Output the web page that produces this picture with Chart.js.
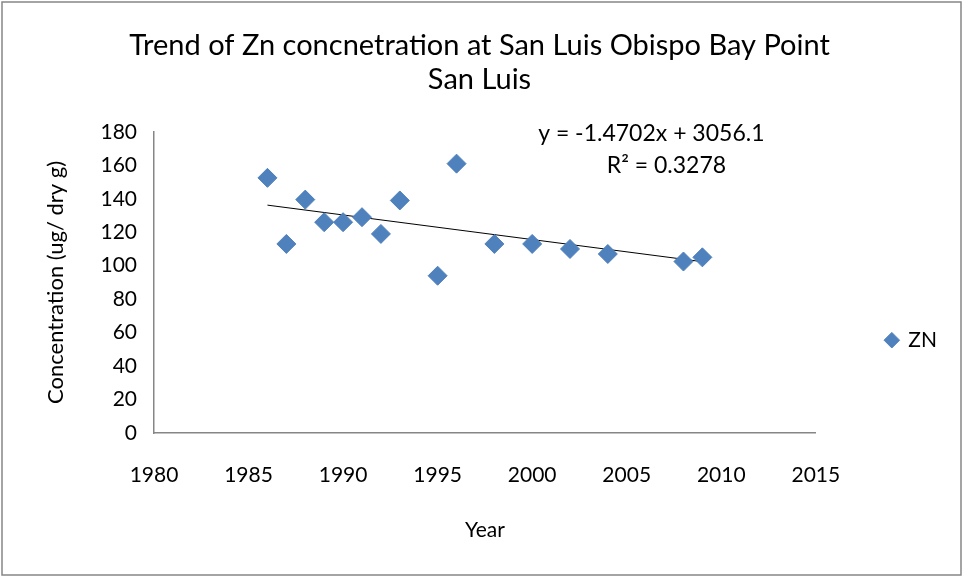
<!DOCTYPE html>
<html>
<head>
  <title>Trend of Zn concentration</title>
  <script src="https://cdn.jsdelivr.net/npm/chart.js"></script>
  <style>
    html, body { margin: 0; padding: 0; background: #fff; }
    #wrap { width: 963px; height: 577px; }
  </style>
</head>
<body>
<div id="wrap"><canvas id="graphCanvas" width="963" height="577"></canvas></div>

<script>
// sample years and measured Zn (ug / dry g)
let years = [1986, 1987, 1988, 1989, 1990, 1991, 1992, 1993, 1995, 1996, 1998, 2000, 2002, 2004, 2008, 2009];
let zn = [152.5, 113, 139.5, 126, 126, 129, 119, 139, 94, 161, 113, 113, 110, 107, 102.5, 105];

// linear trendline ends
let trendYears = [1986, 2009];
let trendValues = [136.2, 102.4];

let trendLabel = ['y = -1.4702x + 3056.1', 'R\u00B2 = 0.3278'];
let titleLines = ['Trend of Zn concnetration at San Luis Obispo Bay Point', 'San Luis'];

let fontName = 'Lato, "Open Sans", sans-serif';
let axisGray = '#868686';

let points = [];
for (let i = 0; i < years.length; i++) {
  points.push({ x: years[i], y: zn[i] });
}
let trend = [];
for (let i = 0; i < trendYears.length; i++) {
  trend.push({ x: trendYears[i], y: trendValues[i] });
}

// white background + outer frame like the spreadsheet chart
let framePlugin = {
  id: 'frame',
  beforeDraw(chart) {
    let ctx = chart.ctx;
    ctx.save();
    ctx.fillStyle = '#fff';
    ctx.fillRect(0, 0, chart.width, chart.height);
    ctx.strokeStyle = axisGray;
    ctx.lineWidth = 1.5;
    ctx.strokeRect(2, 2, chart.width - 4, chart.height - 4);
    ctx.restore();
  }
};

// equation text next to the trendline
let equationPlugin = {
  id: 'equation',
  afterDatasetsDraw(chart) {
    let ctx = chart.ctx;
    let xs = chart.scales.x, ys = chart.scales.y;
    ctx.save();
    ctx.fillStyle = '#000';
    ctx.font = '23px ' + fontName;
    ctx.textAlign = 'center';
    ctx.textBaseline = 'middle';
    ctx.fillText(trendLabel[0], xs.getPixelForValue(2006.3), ys.getPixelForValue(178.8));
    ctx.fillText(trendLabel[1], xs.getPixelForValue(2007.1), ys.getPixelForValue(159.7));
    ctx.restore();
  }
};

let options = {
  type: 'scatter',
  data: {
    datasets: [
      {
        label: 'ZN',
        data: points,
        pointStyle: 'rectRot',
        pointRadius: 9.5,
        pointHoverRadius: 9.5,
        backgroundColor: '#4F81BD',
        borderColor: '#4F81BD',
        borderWidth: 1
      },
      {
        label: 'trend',
        type: 'line',
        data: trend,
        borderColor: '#000',
        borderWidth: 1,
        pointRadius: 0,
        fill: false
      }
    ]
  },
  options: {
    responsive: false,
    animation: false,
    layout: { padding: { left: 12, right: 16, top: 10, bottom: 10 } },
    plugins: {
      title: {
        display: true,
        text: titleLines,
        color: '#000',
        font: { family: fontName, size: 29, weight: 'normal', lineHeight: 1.17 },
        padding: { top: 19, bottom: 35 }
      },
      legend: {
        position: 'right',
        title: { display: true, text: '', padding: { top: 89, bottom: 0 } },
        labels: {
          usePointStyle: true,
          boxWidth: 12,
          boxHeight: 11,
          color: '#000',
          font: { family: fontName, size: 21 },
          padding: 4,
          filter: item => item.text === 'ZN'
        }
      },
      tooltip: { enabled: false }
    },
    scales: {
      x: {
        type: 'linear',
        min: 1980,
        max: 2015,
        grid: { display: false, drawTicks: false },
        border: { display: true, color: axisGray, width: 1.5 },
        ticks: { stepSize: 5, padding: 30, color: '#000', font: { family: fontName, size: 21 },
                 callback: v => String(v) },
        title: { display: true, text: 'Year', color: '#000', font: { family: fontName, size: 21 },
                 padding: { top: 0, bottom: 24 } },
        afterFit(scale) { scale.height = 134; }
      },
      y: {
        min: 0,
        max: 180,
        grid: { display: false, drawTicks: false },
        border: { display: true, color: axisGray, width: 1.5 },
        ticks: { stepSize: 20, padding: 17, color: '#000', font: { family: fontName, size: 21 } },
        title: { display: true, text: 'Concentration (ug/ dry g)', color: '#000',
                 font: { family: fontName, size: 22 }, padding: { top: 31, bottom: 0 } },
        afterFit(scale) { scale.width = 142; }
      },
      // empty gap between plot and legend
      gap: {
        position: 'right',
        display: true,
        grid: { display: false, drawTicks: false },
        border: { display: false },
        ticks: { display: false },
        afterFit(scale) { scale.width = 66; }
      }
    }
  },
  plugins: [framePlugin, equationPlugin]
};

let chart = new Chart(document.getElementById('graphCanvas'), options);
</script>
</body>
</html>
